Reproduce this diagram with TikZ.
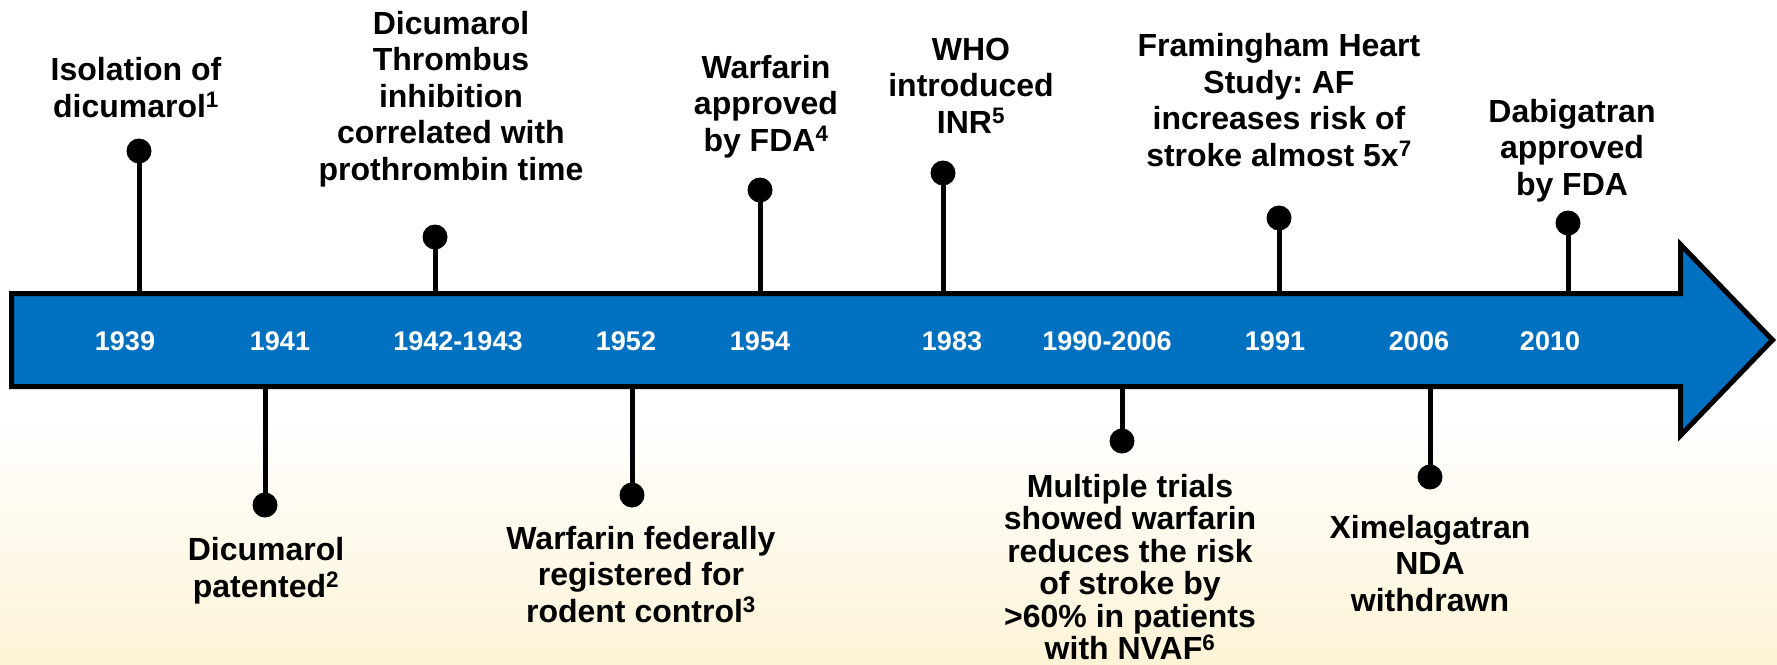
\documentclass[tikz,border=0pt]{standalone}
\usepackage{fontspec}
\setmainfont{Liberation Sans}
\frenchspacing
\definecolor{barblue}{RGB}{0,112,192}
\definecolor{cream}{RGB}{253,243,214}
\begin{document}
\begin{tikzpicture}[x=1pt,y=-1pt,
  lbl/.style={font=\fontsize{32}{36.5}\selectfont\bfseries, align=center, inner sep=0pt, anchor=base},
  lbltight/.style={lbl, font=\fontsize{32}{32.5}\selectfont\bfseries},
  yr/.style={font=\fontsize{27}{30}\selectfont\bfseries, text=white, inner sep=0pt, anchor=base},
  stem/.style={line width=5pt},
  dotf/.style={circle, fill=black, minimum size=25pt, inner sep=0pt},
  bar/.style={fill=barblue, draw=black, line width=5pt, line join=miter}
]
\useasboundingbox (0,0) rectangle (1777,664);
\fill[white] (0,0) rectangle (1777,420);
\shade[top color=white, bottom color=cream] (0,419) rectangle (1777,664);

% timeline arrow
\draw[bar] (11.5,293.5) -- (1680.5,293.5) -- (1680.5,244.5) -- (1772.5,340) -- (1680.5,435.5) -- (1680.5,386.5) -- (11.5,386.5) -- cycle;

% years
\node[yr] (y1) at (125,350) {1939};
\node[yr] (y2) at (280,350) {1941};
\node[yr] (y3) at (458,350) {1942-1943};
\node[yr] (y4) at (626,350) {1952};
\node[yr] (y5) at (760,350) {1954};
\node[yr] (y6) at (952,350) {1983};
\node[yr] (y7) at (1107,350) {1990-2006};
\node[yr] (y8) at (1275,350) {1991};
\node[yr] (y9) at (1419,350) {2006};
\node[yr] (y10) at (1550,350) {2010};

% dots
\node[dotf] (d1) at (139,151) {};
\node[dotf] (d2) at (265,505) {};
\node[dotf] (d3) at (435,237) {};
\node[dotf] (d4) at (632,495) {};
\node[dotf] (d5) at (760,190) {};
\node[dotf] (d6) at (943,173) {};
\node[dotf] (d7) at (1122,441) {};
\node[dotf] (d8) at (1279,218) {};
\node[dotf] (d9) at (1430,477) {};
\node[dotf] (d10) at (1568,223) {};

% stem ends on the bar
\coordinate (b1) at (139,292);
\coordinate (b2) at (265,388);
\coordinate (b3) at (435,292);
\coordinate (b4) at (632,388);
\coordinate (b5) at (760,292);
\coordinate (b6) at (943,292);
\coordinate (b7) at (1122,388);
\coordinate (b8) at (1279,292);
\coordinate (b9) at (1430,388);
\coordinate (b10) at (1568,292);

\foreach \i in {1,...,10} { \draw[stem] (d\i.center) -- (b\i); }

% labels (anchored at the baseline of the last line)
\node[lbl] (t1) at (136,117) {Isolation of\\dicumarol\textsuperscript{1}};
\node[lbl] (t3) at (451,180) {Dicumarol\\Thrombus\\inhibition\\correlated with\\prothrombin time};
\node[lbl] (t5) at (766,151) {Warfarin\\approved\\by FDA\textsuperscript{4}};
\node[lbl] (t6) at (971,133) {WHO\\introduced\\INR\textsuperscript{5}};
\node[lbl] (t8) at (1279,166) {Framingham Heart\\Study: AF\\increases risk of\\stroke almost 5x\textsuperscript{7}};
\node[lbl] (t10) at (1572,195) {Dabigatran\\approved\\by FDA};
\node[lbl] (t2) at (266,597) {Dicumarol\\patented\textsuperscript{2}};
\node[lbl] (t4) at (641,622) {Warfarin federally\\registered for\\rodent control\textsuperscript{3}};
\node[lbltight] (t7) at (1130,659.5) {Multiple trials\\showed warfarin\\reduces the risk\\of stroke by\\>60\% in patients\\with NVAF\textsuperscript{6}};
\node[lbl] (t9) at (1430,611) {Ximelagatran\\NDA\\withdrawn};
\end{tikzpicture}
\end{document}
